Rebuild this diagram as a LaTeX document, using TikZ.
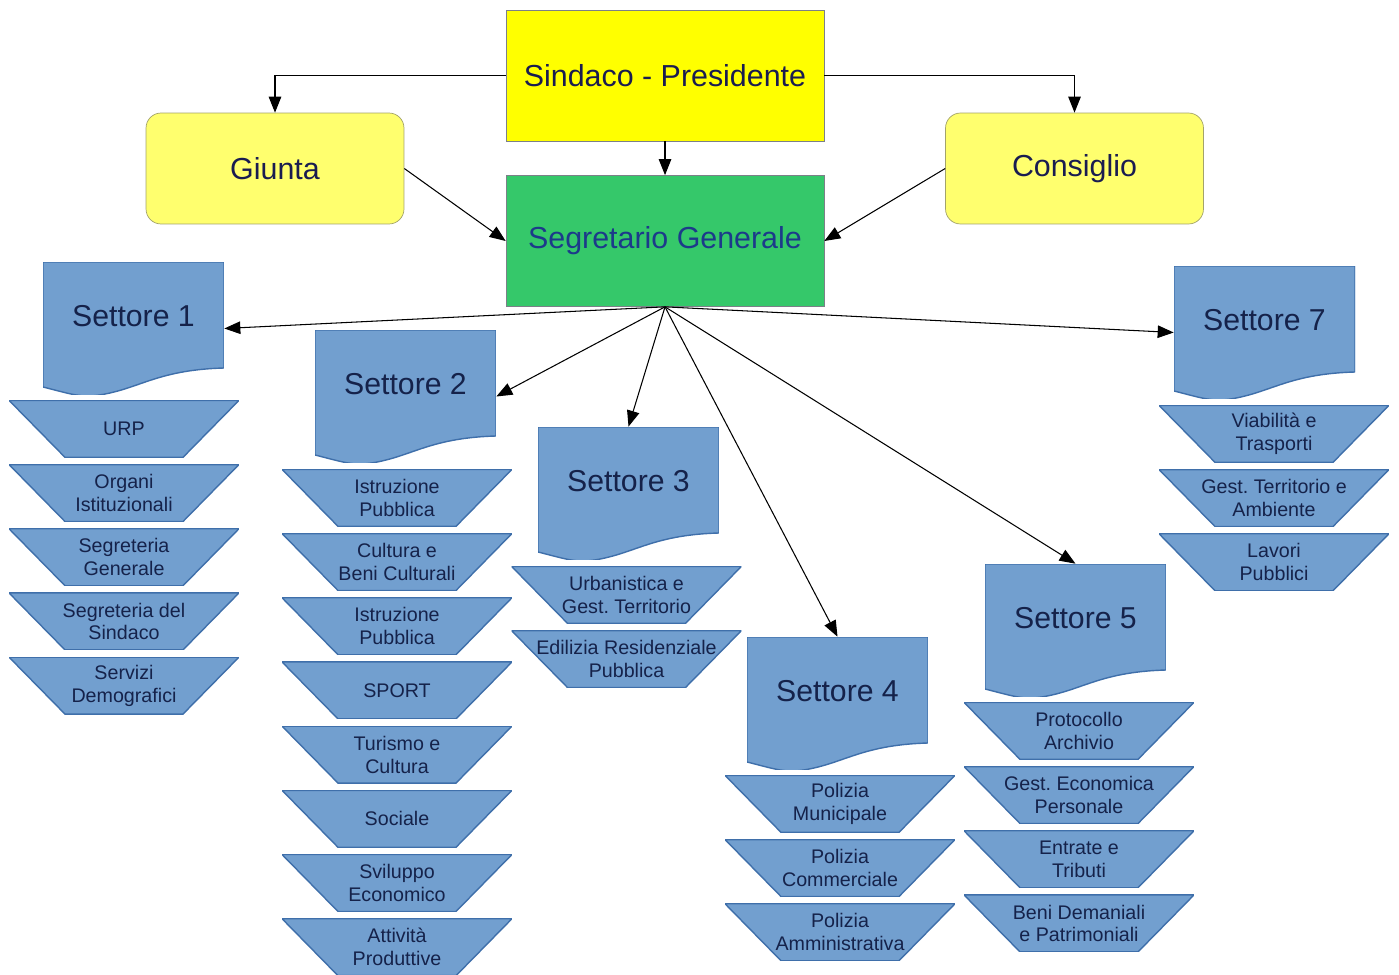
\documentclass[tikz,border=0pt]{standalone}
\usepackage{fontspec}
\setmainfont{Liberation Sans}
\frenchspacing
\usetikzlibrary{arrows.meta,positioning}
\definecolor{navy}{HTML}{1A1C50}
\definecolor{ink}{HTML}{15224A}
\definecolor{sgink}{HTML}{1C3A8A}
\definecolor{mayor}{HTML}{FFFF00}
\definecolor{board}{HTML}{FFFF6E}
\definecolor{boardline}{HTML}{A3A36A}
\definecolor{secretary}{HTML}{35C86A}
\definecolor{frame}{HTML}{7C8088}
\definecolor{secfill}{HTML}{729FCF}
\definecolor{secline}{HTML}{3F6FAA}
\tikzset{
    boss/.style =   {rectangle,
                    fill=mayor,
                    draw=frame,
                    text=navy,
                    font=\fontsize{17.3}{20}\selectfont,
                    minimum width=6.36cm,
                    minimum height=2.62cm},
    board/.style =  {rectangle,
                    rounded corners=0.3cm,
                    fill=board,
                    draw=boardline,
                    text=navy,
                    font=\fontsize{17.3}{20}\selectfont,
                    minimum width=5.16cm,
                    minimum height=2.22cm},
    sector/.style = {rectangle,
                    inner sep=0pt,
                    minimum width=3.62cm,
                    minimum height=2.66cm,
                    text height=0.4355cm,
                    text depth=0.5cm,
                    text=ink,
                    font=\fontsize{17.2}{20}\selectfont,
                    path picture={\path[fill=secfill,draw=secline,line width=0.8pt]
                        (path picture bounding box.north west) -- ++(3.62cm,0cm) -- ++(0cm,-2.12cm)
                        .. controls +(-1.42cm,-0.04cm) and +(0.92cm,0.1cm) .. ++(-2.64cm,-0.56cm)
                        .. controls +(-0.28cm,-0.02cm) and +(0.4cm,-0.1cm) .. ++(-0.98cm,0.18cm)
                        -- cycle;}},
    office/.style = {rectangle,
                    inner sep=0pt,
                    align=center,
                    minimum width=4.6cm,
                    minimum height=1.14cm,
                    text=ink,
                    font=\fontsize{11.2}{13}\selectfont,
                    path picture={\path[fill=secfill,draw=secline,line width=0.8pt]
                        (path picture bounding box.north west) -- ++(4.6cm,0cm)
                        -- ++(-1.12cm,-1.14cm) -- ++(-2.36cm,0cm) -- cycle;}},
    link/.style =   {line width=0.6pt,
                    -{Triangle[length=0.32cm,width=0.25cm]}},
    gap/.style =    {below=0.13cm of #1}
}

\begin{document}
\begin{tikzpicture}[x=0.02cm,y=-0.02cm]
    \useasboundingbox (0,0) rectangle (1399,974);

    % top of the chart
    \node[boss]                   (SP) at (665,75.5)   {Sindaco - Presidente};
    \node[boss,fill=secretary,text=sgink] (SG) at (665,241) {Segretario Generale};
    \node[board]                  (GI) at (275,168.5)  {Giunta};
    \node[board]                  (CO) at (1074.5,168.5) {Consiglio};

    % the sectors
    \node[sector] (S1) at (133.5,328.5)  {Settore 1};
    \node[sector] (S2) at (405.5,396.5)  {Settore 2};
    \node[sector] (S3) at (628.5,493.5)  {Settore 3};
    \node[sector] (S4) at (837.5,703.5)  {Settore 4};
    \node[sector] (S5) at (1075.5,630.5) {Settore 5};
    \node[sector] (S7) at (1264.5,332.5) {Settore 7};

    % offices of Settore 1
    \node[office,anchor=north] (A1) at (124,400) {URP};
    \node[office,gap=A1]       (A2) {Organi\\Istituzionali};
    \node[office,gap=A2]       (A3) {Segreteria\\Generale};
    \node[office,gap=A3]       (A4) {Segreteria del\\Sindaco};
    \node[office,gap=A4]       (A5) {Servizi\\Demografici};

    % offices of Settore 2
    \node[office,anchor=north] (B1) at (397,469) {Istruzione\\Pubblica};
    \node[office,gap=B1]       (B2) {Cultura e\\Beni Culturali};
    \node[office,gap=B2]       (B3) {Istruzione\\Pubblica};
    \node[office,gap=B3]       (B4) {SPORT};
    \node[office,gap=B4]       (B5) {Turismo e\\Cultura};
    \node[office,gap=B5]       (B6) {Sociale};
    \node[office,gap=B6]       (B7) {Sviluppo\\Economico};
    \node[office,gap=B7]       (B8) {Attività\\Produttive};

    % offices of Settore 3
    \node[office,anchor=north] (C1) at (626.5,566) {Urbanistica e\\Gest. Territorio};
    \node[office,gap=C1]       (C2) {Edilizia Residenziale\\Pubblica};

    % offices of Settore 4
    \node[office,anchor=north] (D1) at (840,775) {Polizia\\Municipale};
    \node[office,gap=D1]       (D2) {Polizia\\Commerciale};
    \node[office,gap=D2]       (D3) {Polizia\\Amministrativa};

    % offices of Settore 5
    \node[office,anchor=north] (E1) at (1079,702) {Protocollo\\Archivio};
    \node[office,gap=E1]       (E2) {Gest. Economica\\Personale};
    \node[office,gap=E2]       (E3) {Entrate e\\Tributi};
    \node[office,gap=E3]       (E4) {Beni Demaniali\\e Patrimoniali};

    % offices of Settore 7
    \node[office,anchor=north] (G1) at (1274,405) {Viabilità e\\Trasporti};
    \node[office,gap=G1]       (G2) {Gest. Territorio e\\Ambiente};
    \node[office,gap=G2]       (G3) {Lavori\\Pubblici};

    \path [link]    (SP.west) edge [to path={-| (\tikztotarget)}] (GI.north)
                    (SP.east) edge [to path={-| (\tikztotarget)}] (CO.north)
                    (SP)      edge (SG)
                    (GI.east) edge (SG.west)
                    (CO.west) edge (SG.east)
                    (SG.south) edge (S1.east)
                    (SG.south) edge (S2.east)
                    (SG.south) edge (S3.north)
                    (SG.south) edge (S4.north)
                    (SG.south) edge (S5.north)
                    (SG.south) edge (S7.west);
\end{tikzpicture}
\end{document}
